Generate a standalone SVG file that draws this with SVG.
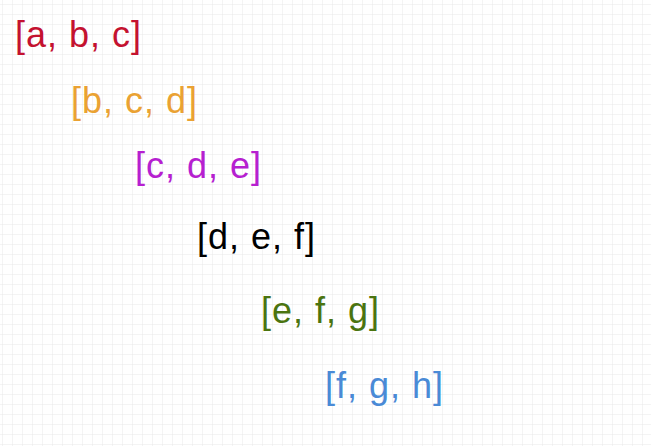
<svg xmlns="http://www.w3.org/2000/svg" width="651" height="446" viewBox="0 0 651 446">
<defs>
<pattern id="grid" x="3" y="5" width="10" height="10" patternUnits="userSpaceOnUse">
<path d="M10 0V10M0 10H10" fill="none" stroke="#e8e8e8" stroke-width="1"/>
</pattern>
<style>
.t{font-family:"Liberation Sans",Arial,sans-serif;font-size:36px;letter-spacing:1px}
</style>
</defs>
<rect width="651" height="446" fill="#ffffff"/>
<rect width="651" height="446" fill="url(#grid)"/>
<g id="n1"><text class="t" x="15" y="47" fill="#c41230">[a, b, c]</text></g>
<g id="n2"><text class="t" x="71" y="113" fill="#eaa233">[b, c, d]</text></g>
<g id="n3"><text class="t" x="135" y="178" fill="#b620d0">[c, d, e]</text></g>
<g id="n4"><text class="t" x="197" y="249" fill="#000000">[d, e, f]</text></g>
<g id="n5"><text class="t" x="261" y="323" fill="#4b7410">[e, f, g]</text></g>
<g id="n6"><text class="t" x="325" y="398" fill="#4a8ad6">[f, g, h]</text></g>
<g id="connectors"></g>
</svg>
